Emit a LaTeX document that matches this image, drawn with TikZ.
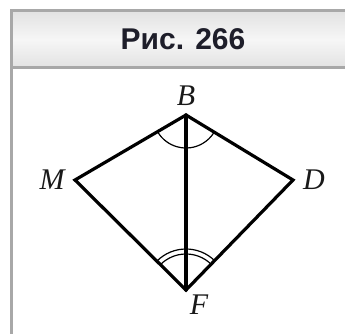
\documentclass[tikz,border=0pt]{standalone}
\usepackage{fontspec}
\newfontfamily\capfont{Liberation Sans}
\newfontfamily\labfont{Liberation Serif}
\usepackage{xcolor}
\usetikzlibrary{calc}
\definecolor{framegray}{HTML}{A8A8A8}
\definecolor{headtop}{HTML}{E2E2E2}
\definecolor{headmid}{HTML}{F6F6F6}
\definecolor{captext}{HTML}{1E1E2A}

\begin{document}
\begin{tikzpicture}[x=1pt,y=1pt,
 side/.style={line width=3.2pt,line join=miter,line cap=round},
 angmark/.style={line width=1.2pt},
 vlabel/.style={font=\labfont\itshape\fontsize{30}{32}\selectfont,inner sep=0pt,text=black!90},
 frame/.style={draw=framegray,line width=3pt}]
\useasboundingbox (0,0) rectangle (345,334);
% caption box
\shade[top color=headtop,bottom color=headtop,middle color=headmid] (11,323) rectangle (360,266);
\draw[frame] (360,323) -- (11,323) -- (11,-20);
\draw[frame] (11,266) -- (360,266);
\node[font=\capfont\bfseries\fontsize{30}{32}\selectfont,text=captext] (cap) at (183,295) {Рис. 266};
% vertices
\coordinate (B) at (186,219);
\coordinate (M) at (75,154);
\coordinate (D) at (293,154);
\coordinate (F) at (186,44);
\node[vlabel] (lB) at (186,238) {B};
\node[vlabel] (lM) at (52,154) {M};
\node[vlabel] (lD) at (314,154) {D};
\node[vlabel] (lF) at (199,29) {F};
% sides
\draw[side] (B) -- (M) -- (F) -- (D) -- cycle;
\draw[side] (B) -- (F);
% equal angles
\draw[angmark] ($(B)+(210.4:33pt)$) arc (210.4:328.7:33pt);
\draw[angmark] ($(F)+(45.8:36pt)$) arc (45.8:135.3:36pt);
\draw[angmark] ($(F)+(45.8:41pt)$) arc (45.8:135.3:41pt);
\end{tikzpicture}
\end{document}
